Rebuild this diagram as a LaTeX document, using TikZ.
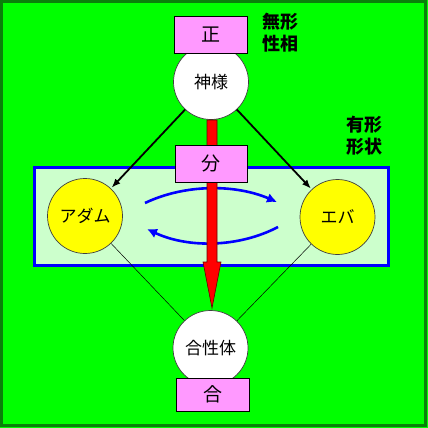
\documentclass[tikz,border=0pt]{standalone}
\usepackage{fontspec}
\setmainfont{Noto Sans CJK JP}
\usetikzlibrary{arrows.meta}
\definecolor{bggreen}{HTML}{00FF00}
\definecolor{framegreen}{HTML}{0A800A}
\definecolor{lightg}{HTML}{CCFFCC}
\definecolor{violetbox}{HTML}{FF99FF}
\definecolor{pureblue}{HTML}{0000FF}
\definecolor{pureyellow}{HTML}{FFFF00}
\definecolor{purered}{HTML}{FF0000}
\tikzset{
  whitecirc/.style={circle, draw=black!75, line width=0.7pt, fill=white, minimum size=75pt, inner sep=0pt, font=\fontsize{17}{19}\selectfont},
  yellowcirc/.style={whitecirc, fill=pureyellow},
  stagebox/.style={rectangle, draw=black, line width=0.8pt, fill=violetbox, minimum width=73pt, minimum height=37pt, inner sep=0pt, font=\fontsize{19}{21}\selectfont},
  sidetext/.style={align=left, inner sep=0pt, font=\fontsize{18}{21.5}\selectfont\bfseries},
  godarrow/.style={line width=1.8pt, -{Latex[length=9pt,width=7pt]}, shorten >=1pt},
  thinline/.style={line width=0.5pt, black},
  flowarrow/.style={pureblue, line width=2.6pt, -{Latex[length=10pt,width=10pt]}},
}
\begin{document}
\begin{tikzpicture}[x=1pt,y=-1pt]
\useasboundingbox (0,0) rectangle (428,428);
\fill[bggreen] (0,0) rectangle (428,428);
\draw[framegreen, line width=3pt] (1.5,1.5) rectangle (425.5,425.5);

% world region
\node[rectangle, draw=pureblue, line width=3pt, fill=lightg, minimum width=354pt, minimum height=98pt, inner sep=0pt] (world) at (211,216.5) {};

% blue circulation arrows
\coordinate (t1) at (145,203);
\coordinate (t2) at (277,202);
\coordinate (b1) at (278,227);
\coordinate (b2) at (147,229);
\draw[flowarrow] (t1) .. controls (185,184) and (235,184) .. (t2);
\draw[flowarrow] (b1) .. controls (238,248) and (187,248) .. (b2);

% circles
\node[whitecirc] (god) at (211,82) {神様};
\node[yellowcirc] (adam) at (85,216) {アダム};
\node[yellowcirc] (eve) at (337.5,217) {エバ};
\node[whitecirc] (hap) at (210.5,348) {合性体};

% connectors
\draw[godarrow] (god) -- (adam);
\draw[godarrow] (god) -- (eve);
\draw[thinline] (adam) -- (hap);
\draw[thinline] (eve) -- (hap);

% red arrow
\coordinate (rtip) at (212,308);
\draw[fill=purered, draw=black!60!red, line width=0.6pt]
  (207,120) -- (207,262) -- (203,262) -- (rtip) -- (221,262) -- (217,262) -- (217,120) -- cycle;

% boxes
\node[stagebox] (sei) at (210.5,34.5) {正};
\node[stagebox, minimum width=72pt] (bun) at (211,163.5) {分};
\node[stagebox, minimum height=33pt] (go) at (212.5,394.5) {合};

% side texts
\node[sidetext, anchor=north west] (mukei) at (262,13) {無形\\性相};
\node[sidetext, anchor=north west] (yukei) at (346,116) {有形\\形状};
\end{tikzpicture}
\end{document}
